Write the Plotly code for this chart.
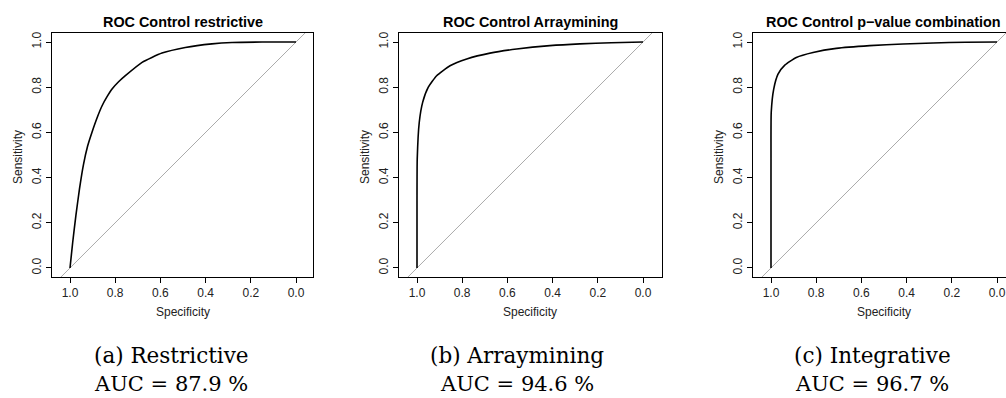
import plotly.graph_objects as go

W, H = 1006, 398

# ---------------- data ----------------
titles = ["ROC Control restrictive", "ROC Control Arraymining", "ROC Control p\u2212value combination"]
captions = ["(a) Restrictive", "(b) Arraymining", "(c) Integrative"]
auc_labels = ["AUC = 87.9 %", "AUC = 94.6 %", "AUC = 96.7 %"]

spec_restrictive = [1.0, 0.988, 0.974, 0.958, 0.940, 0.922, 0.903, 0.880, 0.858, 0.836, 0.814,
                    0.785, 0.755, 0.681, 0.593, 0.490, 0.372, 0.283, 0.15, 0.0]
sens_restrictive = [0.0, 0.114, 0.232, 0.350, 0.460, 0.540, 0.600, 0.665, 0.718, 0.758, 0.792,
                    0.824, 0.851, 0.910, 0.951, 0.976, 0.992, 0.998, 1.0, 1.0]

spec_arraymining = [1.0, 1.0, 0.999, 0.990, 0.975, 0.950, 0.913, 0.854, 0.780, 0.677,
                    0.559, 0.412, 0.279, 0.14, 0.0]
sens_arraymining = [0.0, 0.30, 0.482, 0.645, 0.733, 0.800, 0.851, 0.895, 0.925, 0.951,
                    0.969, 0.984, 0.992, 0.997, 1.0]

spec_integrative = [1.0, 1.0, 1.0, 0.999, 0.988, 0.969, 0.939, 0.888, 0.814, 0.711,
                    0.563, 0.416, 0.283, 0.14, 0.0]
sens_integrative = [0.0, 0.30, 0.482, 0.689, 0.792, 0.858, 0.898, 0.932, 0.954, 0.972,
                    0.984, 0.991, 0.996, 0.999, 1.0]

chance_spec = [1.2, -0.2]
tick_vals = [0.0, 0.2, 0.4, 0.6, 0.8, 1.0]
tick_text = ["0.0", "0.2", "0.4", "0.6", "0.8", "1.0"]

curves = [(spec_restrictive, sens_restrictive),
          (spec_arraymining, sens_arraymining),
          (spec_integrative, sens_integrative)]

# ---------------- layout geometry (pixels) ----------------
box_left = [52, 399, 753]
box_right = [313, 662, 1006]
spec1_px = [70, 417, 771]
px_per_unit = 226.0
box_top, box_bottom = 33, 277
caption_cx = [171, 517, 872]

def fx(px):
    return px / W

def fy(py):
    return 1 - py / H

SANS = "Liberation Sans"
fig = go.Figure()
annotations = []

for i, (sp, se) in enumerate(curves):
    ax = "" if i == 0 else str(i + 1)
    xa, ya = "x" + ax, "y" + ax
    fig.add_trace(go.Scatter(x=chance_spec, y=[1 - s for s in chance_spec], mode="lines",
                             line=dict(color="#ababab", width=1), xaxis=xa, yaxis=ya,
                             showlegend=False, hoverinfo="skip"))
    fig.add_trace(go.Scatter(x=sp, y=se, mode="lines",
                             line=dict(color="black", width=1.6, shape="spline", smoothing=0.5),
                             xaxis=xa, yaxis=ya, showlegend=False))
    L, R = box_left[i], box_right[i]
    p1 = spec1_px[i]
    xr = [1 + (p1 - L) / px_per_unit, 1 - (R - p1) / px_per_unit]
    common = dict(showgrid=False, zeroline=False, showline=True, linecolor="black", linewidth=1,
                  ticks="outside", ticklen=5, tickwidth=1, tickcolor="black",
                  tickvals=tick_vals, ticktext=tick_text,
                  tickfont=dict(family=SANS, size=12, color="#222"))
    fig.layout["xaxis" + ax] = dict(domain=[fx(L), fx(R)], range=xr, anchor=ya, mirror=True, **common)
    fig.layout["yaxis" + ax] = dict(domain=[fy(box_bottom), fy(box_top)], range=[-0.04, 1.04], anchor=xa,
                                    mirror=(i < 2), tickangle=-90, **common)
    cx = (L + (R if i < 2 else 1014)) / 2
    annotations.append(dict(text="<b>%s</b>" % titles[i], x=fx(cx), y=fy(22), xref="paper", yref="paper",
                            showarrow=False, xanchor="center", yanchor="middle",
                            font=dict(family=SANS, size=14.4, color="black")))
    annotations.append(dict(text="Specificity", x=fx(p1 + px_per_unit / 2), y=fy(312), xref="paper", yref="paper",
                            showarrow=False, xanchor="center", yanchor="middle",
                            font=dict(family=SANS, size=12, color="#222")))
    annotations.append(dict(text="Sensitivity", x=fx(L - 34), y=fy(157), xref="paper", yref="paper",
                            showarrow=False, xanchor="center", yanchor="middle", textangle=-90,
                            font=dict(family=SANS, size=12, color="#222")))
    annotations.append(dict(text=captions[i], x=fx(caption_cx[i]), y=fy(355), xref="paper", yref="paper",
                            showarrow=False, xanchor="center", yanchor="middle",
                            font=dict(family="DejaVu Serif", size=21.5, color="black")))
    annotations.append(dict(text=auc_labels[i], x=fx(caption_cx[i]), y=fy(384), xref="paper", yref="paper",
                            showarrow=False, xanchor="center", yanchor="middle",
                            font=dict(family="DejaVu Serif", size=21, color="black")))

fig.update_layout(width=W, height=H, autosize=False, margin=dict(l=0, r=0, t=0, b=0, pad=0),
                  paper_bgcolor="white", plot_bgcolor="white", annotations=annotations)

fig.write_html("out.html")
